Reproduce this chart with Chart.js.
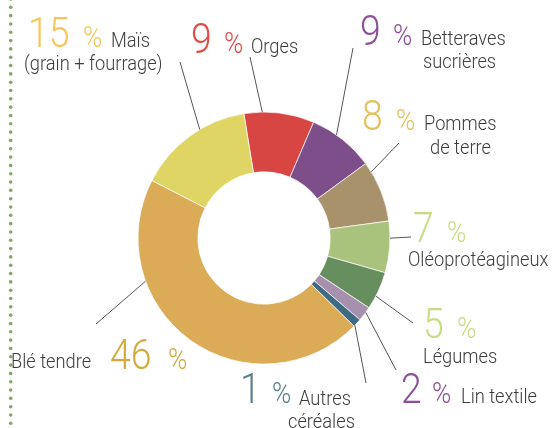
<!DOCTYPE html>
<html>
<head>
<meta charset="utf-8">
<script src="https://cdn.jsdelivr.net/npm/chart.js@4/dist/chart.umd.min.js"></script>
<style>
    html, body { margin: 0; padding: 0; background: #fff; }
    #wrap { width: 552px; height: 428px; }
</style>
</head>
<body>
<div id="wrap"><canvas id="cropChart" width="552" height="428"></canvas></div>
<script>
// Surfaces, clockwise from the top (Orges first)
var categories = ['Orges', 'Betteraves sucrières', 'Pommes de terre', 'Oléoprotéagineux', 'Légumes', 'Lin textile', 'Autres céréales', 'Blé tendre', 'Maïs (grain + fourrage)'];
// slice sizes
var shares = [9, 8.5, 7.9, 6.6, 4.9, 1.9, 1.1, 45.2, 14.9];
// percentages printed next to each slice
var printedPct = ['9', '9', '8', '7', '5', '2', '1', '46', '15'];
var sliceColors = ['#d84643', '#7d4e89', '#a8926b', '#a9c37c', '#678e5f', '#a78fae', '#3e6a82', '#dbab58', '#dfd564'];
var pctColors = ['#e24b45', '#8c4f98', '#e3c15c', '#c8dc86', '#c8dc86', '#8c4f98', '#5a7e92', '#d5aa3c', '#f8c55c'];

var TEXT_COLOR = '#3c3c3c';
var LINE_COLOR = '#555555';
var SX = 0.87; // the original type is condensed

// Label layout: number position, % position, name lines, leader line end
// frac = where along the slice the leader line touches the ring
var labelLayout = [
    {num: [191, 53], pct: [224, 53], names: [['Orges', 251, 53]], line: [250, 57], frac: 0.26},
    {num: [360, 45], pct: [393, 45], names: [['Betteraves', 421, 45], ['sucrières', 423, 68]], line: [353, 48], frac: 0.39},
    {num: [362, 130], pct: [396, 130], names: [['Pommes', 424, 130], ['de terre', 430, 154]], line: [399, 143], frac: 0.16},
    {num: [413, 242], pct: [447, 242], names: [['Oléoprotéagineux', 408, 266]], line: [411, 237], frac: 0.33},
    {num: [423, 338], pct: [457, 338], names: [['Légumes', 423, 363]], line: [413, 323], frac: 0.65},
    {num: [401, 403], pct: [432, 403], names: [['Lin textile', 461, 403]], line: [396, 370], frac: 0.37},
    {num: [240, 403], pct: [272, 403], names: [['Autres', 299, 405], ['céréales', 288, 428]], line: [366, 383], frac: 0.85},
    {num: [110, 369], pct: [168, 369], names: [['Blé tendre', 11, 368]], line: [96, 324], frac: 0.71},
    {num: [28, 47], pct: [83, 47], names: [['Maïs', 111, 47], ['(grain + fourrage)', 24, 70]], line: [180, 62], frac: 0.6}
];

function drawText(ctx, text, x, y, font, color) {
    ctx.save();
    ctx.font = font;
    ctx.fillStyle = color;
    ctx.textAlign = 'left';
    ctx.textBaseline = 'alphabetic';
    ctx.translate(x, y);
    ctx.scale(SX, 1);
    ctx.fillText(text, 0, 0);
    ctx.restore();
}

var labelsPlugin = {
    id: 'cropLabels',
    afterDraw: function(chart) {
        var ctx = chart.ctx;
        var arcs = chart.getDatasetMeta(0).data;

        // green dotted rule on the left edge
        ctx.save();
        ctx.fillStyle = '#80a863';
        for (var y = -1; y < 432; y += 8.32) {
            ctx.beginPath();
            ctx.arc(10.7, y, 1.8, 0, Math.PI * 2);
            ctx.fill();
        }
        ctx.restore();

        labelLayout.forEach(function(lab, i) {
            var arc = arcs[i];
            var a = arc.startAngle + lab.frac * (arc.endAngle - arc.startAngle);
            var x0 = arc.x + Math.cos(a) * arc.outerRadius;
            var y0 = arc.y + Math.sin(a) * arc.outerRadius;

            ctx.save();
            ctx.strokeStyle = LINE_COLOR;
            ctx.lineWidth = 1;
            ctx.beginPath();
            ctx.moveTo(x0, y0);
            ctx.lineTo(lab.line[0], lab.line[1]);
            ctx.stroke();
            ctx.restore();

            drawText(ctx, printedPct[i], lab.num[0], lab.num[1], '300 43px Roboto', pctColors[i]);
            drawText(ctx, '%', lab.pct[0], lab.pct[1], '300 30px Roboto', pctColors[i]);
            lab.names.forEach(function(n) {
                drawText(ctx, n[0], n[1], n[2], '300 21px Roboto', TEXT_COLOR);
            });
        });
    }
};

var ctx = document.getElementById('cropChart').getContext('2d');
new Chart(ctx, {
    type: 'doughnut',
    data: {
        labels: categories,
        datasets: [{
            data: shares,
            backgroundColor: sliceColors,
            borderColor: 'rgba(255,255,255,0.7)',
            borderWidth: 1
        }]
    },
    options: {
        responsive: false,
        animation: false,
        devicePixelRatio: 1,
        rotation: -9.2,
        radius: 126,
        cutout: '52.5%',
        layout: {
            padding: {left: 0, right: 24, top: 48, bottom: 0}
        },
        plugins: {
            legend: {display: false},
            tooltip: {enabled: false}
        }
    },
    plugins: [labelsPlugin]
});
</script>
</body>
</html>
